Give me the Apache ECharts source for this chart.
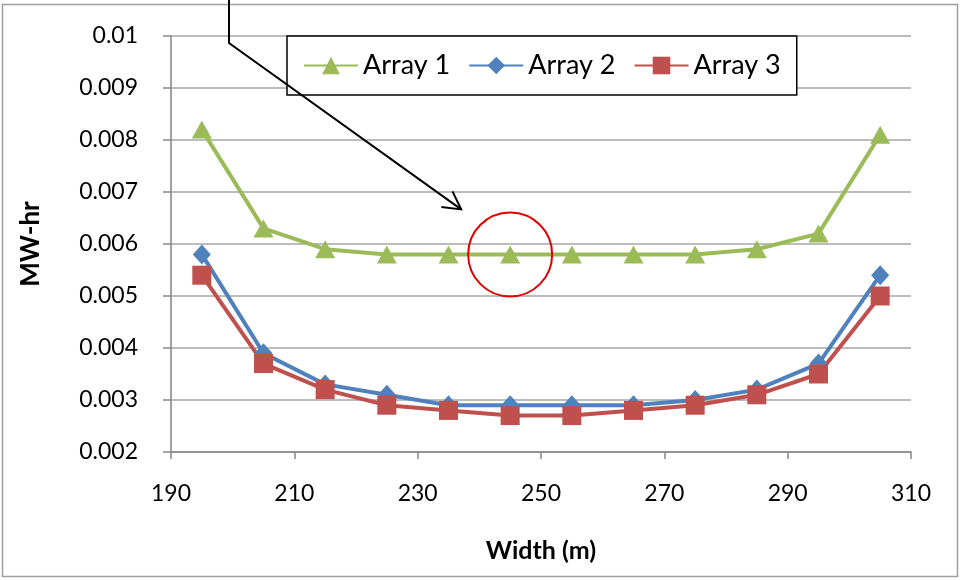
<!DOCTYPE html>
<html>
<head>
<meta charset="utf-8">
<script src="https://cdn.jsdelivr.net/npm/echarts@6/dist/echarts.min.js"></script>
<style>
	html, body { margin: 0; padding: 0; background: #fff; }
	#chart { width: 963px; height: 580px; }
</style>
</head>
<body>
<div id="chart"></div>
<script>
// 数据
const widths = [195, 205, 215, 225, 235, 245, 255, 265, 275, 285, 295, 305]
const array1 = [0.0082, 0.0063, 0.0059, 0.0058, 0.0058, 0.0058, 0.0058, 0.0058, 0.0058, 0.0059, 0.0062, 0.0081]
const array2 = [0.0058, 0.0039, 0.0033, 0.0031, 0.0029, 0.0029, 0.0029, 0.0029, 0.003, 0.0032, 0.0037, 0.0054]
const array3 = [0.0054, 0.0037, 0.0032, 0.0029, 0.0028, 0.0027, 0.0027, 0.0028, 0.0029, 0.0031, 0.0035, 0.005]
const seriesNames = ['Array 1', 'Array 2', 'Array 3']
const circledPoint = [245, 0.0058] // 红圈标注的点

const FONT = 'Lato, "Open Sans", sans-serif'
const GRID_COLOR = '#a6a6a6'
const AXIS_COLOR = '#868686'

const chart = echarts.init(document.getElementById('chart'))

const makeSeries = (name, values, color, symbol, size) => ({
	name,
	type: 'line',
	data: widths.map((w, i) => [w, values[i]]),
	symbol,
	symbolSize: size,
	lineStyle: { color, width: 4 },
	itemStyle: { color },
	z: 3,
})

chart.setOption({
	animation: false,
	grid: { left: 171, right: 52, top: 36, bottom: 128 },
	legend: {
		left: 287,
		top: 36,
		padding: [16, 16, 16, 16],
		itemGap: 18,
		itemWidth: 54,
		itemHeight: 22,
		borderColor: '#000',
		borderWidth: 1.5,
		backgroundColor: '#fff',
		textStyle: { fontFamily: FONT, fontSize: 27, color: '#000' },
		data: seriesNames,
	},
	xAxis: {
		type: 'value',
		min: 190,
		max: 310,
		interval: 20,
		name: 'Width (m)',
		nameLocation: 'middle',
		nameGap: 86,
		nameTextStyle: { fontFamily: FONT, fontSize: 25, fontWeight: 'bold', color: '#000' },
		axisLine: { lineStyle: { color: AXIS_COLOR, width: 1.5 } },
		axisTick: { show: true, length: 7, lineStyle: { color: AXIS_COLOR, width: 1.5 } },
		axisLabel: { fontFamily: FONT, fontSize: 23, color: '#000', margin: 30 },
		splitLine: { show: false },
	},
	yAxis: {
		type: 'value',
		min: 0.002,
		max: 0.01,
		interval: 0.001,
		name: 'MW-hr',
		nameLocation: 'middle',
		nameGap: 127,
		nameRotate: 90,
		nameTextStyle: { fontFamily: FONT, fontSize: 26, fontWeight: 'bold', color: '#000' },
		axisLine: { show: true, lineStyle: { color: AXIS_COLOR, width: 1.5 } },
		axisTick: { show: true, length: 8, lineStyle: { color: AXIS_COLOR, width: 1.5 } },
		axisLabel: {
			fontFamily: FONT,
			fontSize: 23,
			color: '#000',
			margin: 33,
			formatter: (v) => String(parseFloat(v.toFixed(3))),
		},
		splitLine: { show: true, lineStyle: { color: GRID_COLOR, width: 1.5 } },
	},
	series: [
		makeSeries(seriesNames[0], array1, '#9bbb59', 'triangle', [20, 18]),
		makeSeries(seriesNames[1], array2, '#4f81bd', 'diamond', [18, 20]),
		makeSeries(seriesNames[2], array3, '#c0504d', 'rect', 19),
	],
})

// 标注：红圈 + 折线箭头
const drawAnnotations = () => {
	const [cx, cy] = chart.convertToPixel({ gridIndex: 0 }, circledPoint)
	const r = 42
	const tip = [cx - 49, cy - 45]
	const start = [229, 0]
	const bend = [229, 43]
	const ang = Math.atan2(tip[1] - bend[1], tip[0] - bend[0])
	const headLen = 20
	const wing = (d) => [
		tip[0] - headLen * Math.cos(ang + d),
		tip[1] - headLen * Math.sin(ang + d),
	]
	chart.setOption({
		graphic: [
			{
				type: 'rect',
				shape: { x: 2.5, y: 4.5, width: 955, height: 572 },
				style: { fill: 'none', stroke: '#a0a0a0', lineWidth: 1.5 },
				silent: true,
				z: 0,
			},
			{
				type: 'circle',
				shape: { cx, cy, r },
				style: { fill: 'none', stroke: '#e00000', lineWidth: 2 },
				silent: true,
				z: 10,
			},
			{
				type: 'polyline',
				shape: { points: [start, bend, tip] },
				style: { fill: 'none', stroke: '#000', lineWidth: 2 },
				silent: true,
				z: 10,
			},
			{
				type: 'polyline',
				shape: { points: [wing(0.5), tip, wing(-0.5)] },
				style: { fill: 'none', stroke: '#000', lineWidth: 2 },
				silent: true,
				z: 10,
			},
		],
	})
}
drawAnnotations()
</script>
</body>
</html>
